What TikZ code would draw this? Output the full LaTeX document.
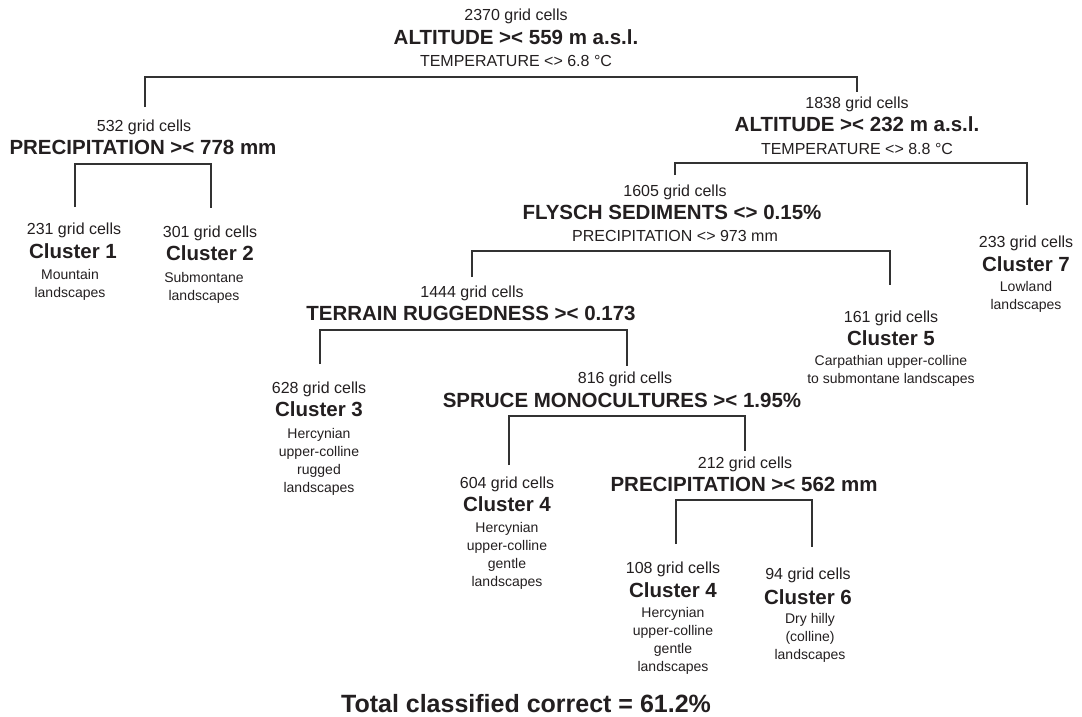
\documentclass[tikz,border=0pt]{standalone}
\usepackage{fontspec}
\setmainfont{Liberation Sans}
\definecolor{ink}{RGB}{35,31,32}
\definecolor{wire}{RGB}{50,50,50}
\begin{document}
\begin{tikzpicture}[x=1pt,y=-1pt,
  gridtxt/.style={font=\fontsize{16}{16}\selectfont, anchor=base, inner sep=0pt, text=ink},
  headtxt/.style={font=\bfseries\fontsize{20.5}{20.5}\selectfont, anchor=base, inner sep=0pt, text=ink},
  desctxt/.style={font=\fontsize{14}{18}\selectfont, anchor=north, inner sep=0pt, align=center, text=ink},
  totaltxt/.style={font=\bfseries\fontsize{25}{25}\selectfont, anchor=base, inner sep=0pt, text=ink},
  linkline/.style={draw=wire, line width=2pt}]
\useasboundingbox (0,0) rectangle (1082,716);

% root
\node[gridtxt] (n2370) at (516,20) {2370 grid cells};
\node[headtxt]  (alt559) at (516,44.5) {ALTITUDE >< 559 m a.s.l.};
\node[gridtxt] (temp68) at (516,66) {TEMPERATURE <> 6.8 °C};

% left branch
\node[gridtxt] (n532) at (144,131) {532 grid cells};
\node[headtxt]  (prec778) at (143,154.5) {PRECIPITATION >< 778 mm};

\node[gridtxt] (n231) at (74,234) {231 grid cells};
\node[headtxt]  (cl1) at (73,258.5) {Cluster 1};
\node[desctxt]  (d1) at (70,269) {Mountain\\landscapes};

\node[gridtxt] (n301) at (210,237) {301 grid cells};
\node[headtxt]  (cl2) at (210,260.5) {Cluster 2};
\node[desctxt]  (d2) at (204,272) {Submontane\\landscapes};

% right branch
\node[gridtxt] (n1838) at (857,108) {1838 grid cells};
\node[headtxt]  (alt232) at (857,131.5) {ALTITUDE >< 232 m a.s.l.};
\node[gridtxt] (temp88) at (857,154) {TEMPERATURE <> 8.8 °C};

\node[gridtxt] (n233) at (1026,247.5) {233 grid cells};
\node[headtxt]  (cl7) at (1026,271) {Cluster 7};
\node[desctxt]  (d7) at (1026,281) {Lowland\\landscapes};

\node[gridtxt] (n1605) at (675,196) {1605 grid cells};
\node[headtxt]  (flysch) at (672,219.5) {FLYSCH SEDIMENTS <> 0.15\%};
\node[gridtxt] (prec973) at (675,241) {PRECIPITATION <> 973 mm};

\node[gridtxt] (n161) at (891,322) {161 grid cells};
\node[headtxt]  (cl5) at (891,345.5) {Cluster 5};
\node[desctxt]  (d5) at (891,355) {Carpathian upper-colline\\to submontane landscapes};

\node[gridtxt] (n1444) at (472,297) {1444 grid cells};
\node[headtxt]  (terrain) at (471,320.5) {TERRAIN RUGGEDNESS >< 0.173};

\node[gridtxt] (n628) at (319,393) {628 grid cells};
\node[headtxt]  (cl3) at (319,416.5) {Cluster 3};
\node[desctxt]  (d3) at (319,428) {Hercynian\\upper-colline\\rugged\\landscapes};

\node[gridtxt] (n816) at (625,383) {816 grid cells};
\node[headtxt]  (spruce) at (622,407.5) {SPRUCE MONOCULTURES >< 1.95\%};

\node[gridtxt] (n604) at (507,488) {604 grid cells};
\node[headtxt]  (cl4a) at (507,511.5) {Cluster 4};
\node[desctxt]  (d4a) at (507,522) {Hercynian\\upper-colline\\gentle\\landscapes};

\node[gridtxt] (n212) at (745,468) {212 grid cells};
\node[headtxt]  (prec562) at (744,491.5) {PRECIPITATION >< 562 mm};

\node[gridtxt] (n108) at (673,573) {108 grid cells};
\node[headtxt]  (cl4b) at (673,597.5) {Cluster 4};
\node[desctxt]  (d4b) at (673,607) {Hercynian\\upper-colline\\gentle\\landscapes};

\node[gridtxt] (n94) at (808,579) {94 grid cells};
\node[headtxt]  (cl6) at (808,604.5) {Cluster 6};
\node[desctxt]  (d6) at (810,613) {Dry hilly\\(colline)\\landscapes};

\node[totaltxt] (tot) at (526,712) {Total classified correct = 61.2\%};

% connector coordinates
\coordinate (a532) at (145,107);  \coordinate (k0L) at (145,77);
\coordinate (a1838) at (857,92);  \coordinate (k0R) at (857,77);

\coordinate (a231) at (75,207);   \coordinate (k1L) at (75,164);
\coordinate (a301) at (211,208);  \coordinate (k1R) at (211,164);

\coordinate (a1605) at (675,175); \coordinate (k2L) at (675,163);
\coordinate (a233) at (1027,205); \coordinate (k2R) at (1027,163);

\coordinate (a1444) at (472,277); \coordinate (k3L) at (472,251);
\coordinate (a161) at (890,285);  \coordinate (k3R) at (890,251);

\coordinate (a628) at (320,364);  \coordinate (k4L) at (320,330);
\coordinate (a816) at (627,366);  \coordinate (k4R) at (627,330);

\coordinate (a604) at (509,465);  \coordinate (k5L) at (509,416);
\coordinate (a212) at (745,451);  \coordinate (k5R) at (745,416);

\coordinate (a108) at (676,544);  \coordinate (k6L) at (676,500);
\coordinate (a94) at (812,547);   \coordinate (k6R) at (812,500);

\draw[linkline] (a532) -- (k0L) -- (k0R) -- (a1838);
\draw[linkline] (a231) -- (k1L) -- (k1R) -- (a301);
\draw[linkline] (a1605) -- (k2L) -- (k2R) -- (a233);
\draw[linkline] (a1444) -- (k3L) -- (k3R) -- (a161);
\draw[linkline] (a628) -- (k4L) -- (k4R) -- (a816);
\draw[linkline] (a604) -- (k5L) -- (k5R) -- (a212);
\draw[linkline] (a108) -- (k6L) -- (k6R) -- (a94);
\end{tikzpicture}
\end{document}
